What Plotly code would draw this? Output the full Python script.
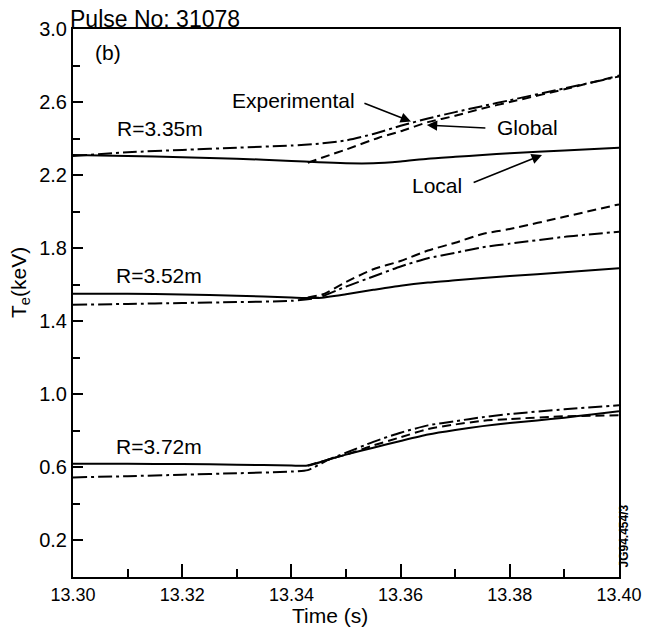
import plotly.graph_objects as go

# ---- Electron temperature traces, pulse 31078 ----
# R = 3.35 m
t_335_local = [13.300, 13.310, 13.320, 13.330, 13.340, 13.345, 13.350, 13.355, 13.360,
               13.365, 13.370, 13.375, 13.380, 13.390, 13.400]
te_335_local = [2.31, 2.305, 2.298, 2.29, 2.278, 2.27, 2.265, 2.265, 2.275,
                2.29, 2.30, 2.31, 2.32, 2.335, 2.35]
t_335_exp = [13.300, 13.310, 13.320, 13.330, 13.340, 13.345, 13.350, 13.355, 13.360,
             13.365, 13.370, 13.375, 13.380, 13.390, 13.400]
te_335_exp = [2.305, 2.325, 2.338, 2.35, 2.362, 2.372, 2.39, 2.425, 2.47,
              2.51, 2.545, 2.578, 2.61, 2.675, 2.74]
t_335_glob = [13.343, 13.347, 13.350, 13.356, 13.360, 13.365, 13.370, 13.375, 13.380,
              13.390, 13.400]
te_335_glob = [2.268, 2.31, 2.34, 2.405, 2.44, 2.49, 2.525, 2.565, 2.60, 2.67, 2.745]

# R = 3.52 m
t_352_local = [13.300, 13.310, 13.320, 13.330, 13.340, 13.345, 13.350, 13.355, 13.360,
               13.365, 13.370, 13.380, 13.390, 13.400]
te_352_local = [1.55, 1.55, 1.547, 1.54, 1.53, 1.528, 1.548, 1.572, 1.595,
                1.612, 1.624, 1.648, 1.668, 1.69]
t_352_exp = [13.300, 13.310, 13.320, 13.330, 13.340, 13.345, 13.350, 13.355, 13.360,
             13.365, 13.370, 13.375, 13.380, 13.390, 13.400]
te_352_exp = [1.49, 1.495, 1.50, 1.505, 1.512, 1.53, 1.59, 1.645, 1.70,
              1.745, 1.775, 1.805, 1.825, 1.862, 1.89]
t_352_glob = [13.343, 13.346, 13.350, 13.355, 13.360, 13.365, 13.370, 13.375, 13.380,
              13.390, 13.400]
te_352_glob = [1.53, 1.55, 1.615, 1.685, 1.73, 1.787, 1.83, 1.878, 1.905, 1.972, 2.04]

# R = 3.72 m
t_372_local = [13.300, 13.310, 13.320, 13.330, 13.340, 13.343, 13.347, 13.350, 13.355,
               13.360, 13.365, 13.370, 13.375, 13.380, 13.385, 13.390, 13.395, 13.400]
te_372_local = [0.62, 0.62, 0.618, 0.615, 0.61, 0.61, 0.645, 0.67, 0.708,
                0.745, 0.78, 0.805, 0.826, 0.843, 0.857, 0.872, 0.89, 0.908]
t_372_exp = [13.300, 13.310, 13.320, 13.330, 13.340, 13.343, 13.347, 13.350, 13.355,
             13.360, 13.365, 13.370, 13.375, 13.380, 13.390, 13.400]
te_372_exp = [0.545, 0.552, 0.56, 0.568, 0.577, 0.585, 0.645, 0.68, 0.74,
              0.79, 0.83, 0.853, 0.875, 0.892, 0.918, 0.94]
t_372_glob = [13.343, 13.347, 13.350, 13.355, 13.360, 13.365, 13.370, 13.375, 13.380,
              13.390, 13.400]
te_372_glob = [0.61, 0.645, 0.67, 0.72, 0.765, 0.81, 0.835, 0.855, 0.865, 0.88, 0.885]

y_tick_vals = [0.2, 0.6, 1.0, 1.4, 1.8, 2.2, 2.6, 3.0]
y_tick_text = ["0.2", "0.6", "1.0", "1.4", "1.8", "2.2", "2.6", "3.0"]
y_minor_vals = [0.4, 0.8, 1.2, 1.6, 2.0, 2.4, 2.8]
x_tick_vals = [13.30, 13.32, 13.34, 13.36, 13.38, 13.40]
x_tick_text = ["13.30", "13.32", "13.34", "13.36", "13.38", "13.40"]
x_minor_vals = [13.31, 13.33, 13.35, 13.37, 13.39]

FONT = "Liberation Sans, Arial, Helvetica, sans-serif"
INK = "#000000"
SOLID = dict(color=INK, width=2)
DASHDOT = dict(color=INK, width=2, dash="14px,4px,3px,4px")
DASHED = dict(color=INK, width=2, dash="9px,5px")

fig = go.Figure()
series = [
    (t_335_local, te_335_local, SOLID), (t_335_exp, te_335_exp, DASHDOT), (t_335_glob, te_335_glob, DASHED),
    (t_352_local, te_352_local, SOLID), (t_352_exp, te_352_exp, DASHDOT), (t_352_glob, te_352_glob, DASHED),
    (t_372_local, te_372_local, SOLID), (t_372_exp, te_372_exp, DASHDOT), (t_372_glob, te_372_glob, DASHED),
]
for tx, ty, ln in series:
    fig.add_trace(go.Scatter(x=tx, y=ty, mode="lines", line=dict(shape="spline", smoothing=0.6, **ln),
                             showlegend=False, hoverinfo="skip"))

text_font = dict(family=FONT, size=21, color=INK)
labels = [
    ("R=3.35m", 13.3159, 2.458),
    ("R=3.52m", 13.3158, 1.648),
    ("R=3.72m", 13.3158, 0.717),
    ("(b)", 13.3064, 2.874),
    ("Experimental", 13.3403, 2.611),
    ("Global", 13.3832, 2.463),
    ("Local", 13.3667, 2.146),
]
for txt, lx, ly in labels:
    fig.add_annotation(x=lx, y=ly, xref="x", yref="y", text=txt, showarrow=False,
                       font=text_font, xanchor="center", yanchor="middle")

# pointer arrows: (tail x, tail y, head x, head y)
arrows = [
    (13.3531, 2.597, 13.3619, 2.493),
    (13.3758, 2.458, 13.3648, 2.474),
    (13.3731, 2.157, 13.3859, 2.310),
]
for tx0, ty0, hx, hy in arrows:
    fig.add_annotation(x=hx, y=hy, ax=tx0, ay=ty0, xref="x", yref="y", axref="x", ayref="y",
                       text="", showarrow=True, arrowhead=2, arrowsize=1.3, arrowwidth=1.6,
                       arrowcolor=INK, standoff=0, startstandoff=0)

fig.add_annotation(x=0.150, y=1.018, xref="paper", yref="paper", text="Pulse No: 31078",
                   showarrow=False, font=dict(family=FONT, size=23, color=INK),
                   xanchor="center", yanchor="middle")
fig.add_annotation(x=0.4707, y=-0.070, xref="paper", yref="paper", text="Time (s)",
                   showarrow=False, font=text_font, xanchor="center", yanchor="middle")
fig.add_annotation(x=-0.097, y=0.5365, xref="paper", yref="paper", text="T<sub>e</sub>(keV)",
                   showarrow=False, font=text_font, textangle=-90, xanchor="center", yanchor="middle")
fig.add_annotation(x=1.0085, y=0.075, xref="paper", yref="paper", text="<b>JG94.454/3</b>",
                   showarrow=False, font=dict(family=FONT, size=12, color=INK), textangle=-90,
                   xanchor="center", yanchor="middle")

axis_common = dict(showgrid=False, zeroline=False, showline=True, linecolor=INK, linewidth=2,
                   mirror=True, ticks="inside", tickcolor=INK, tickwidth=2, tickmode="array")
fig.update_xaxes(range=[13.30, 13.40], tickvals=x_tick_vals, ticktext=x_tick_text, ticklen=13,
                 tickfont=dict(family=FONT, size=18, color=INK),
                 minor=dict(tickvals=x_minor_vals, ticks="inside", ticklen=8, tickwidth=2, tickcolor=INK),
                 **axis_common)
fig.update_yaxes(range=[0, 3.0], tickvals=y_tick_vals, ticktext=y_tick_text, ticklen=10,
                 tickfont=dict(family=FONT, size=20, color=INK),
                 minor=dict(tickvals=y_minor_vals, ticks="inside", ticklen=7, tickwidth=2, tickcolor=INK),
                 **axis_common)

fig.update_layout(width=660, height=629, margin=dict(l=73, r=41, t=29, b=52),
                  paper_bgcolor="white", plot_bgcolor="white", showlegend=False)

fig.write_html("out.html")
